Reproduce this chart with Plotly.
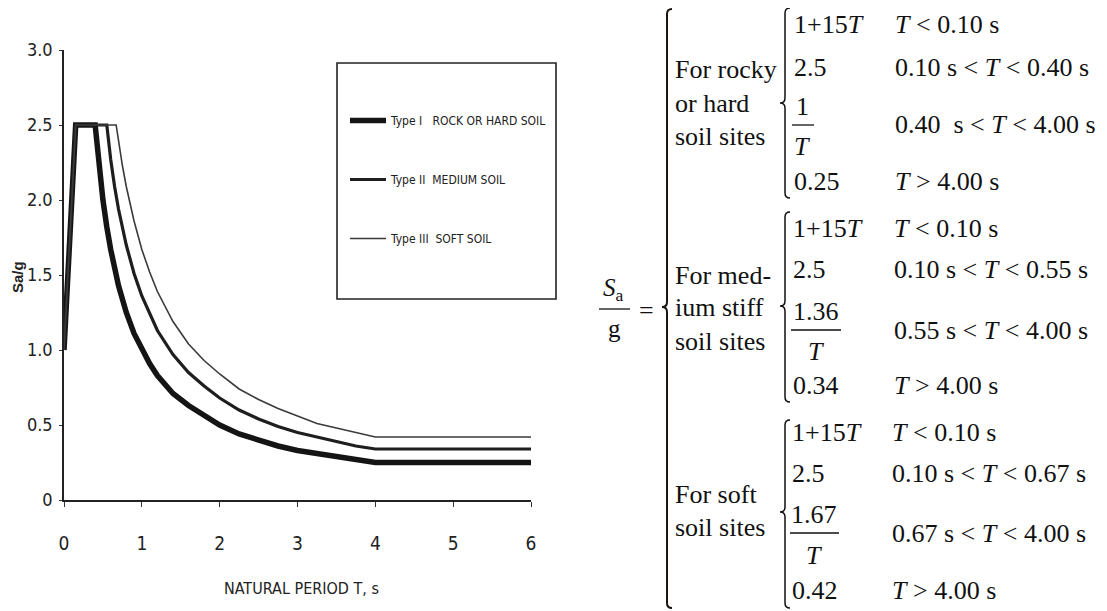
import plotly.graph_objects as go

# ---------------- data ----------------
T_rock = [0, 0.15, 0.40, 0.45, 0.50, 0.55, 0.60, 0.70, 0.80, 0.90, 1.00, 1.10, 1.20, 1.40, 1.60, 1.80, 2.00, 2.25, 2.50, 2.75, 3.00, 3.25, 3.50, 3.75, 4.00, 5.00, 6.00]
Sa_rock = [1.00, 2.50, 2.50, 2.22, 2.00, 1.82, 1.67, 1.43, 1.25, 1.11, 1.00, 0.91, 0.83, 0.71, 0.63, 0.56, 0.50, 0.44, 0.40, 0.36, 0.33, 0.31, 0.29, 0.27, 0.25, 0.25, 0.25]

T_med = [0, 0.15, 0.55, 0.60, 0.65, 0.70, 0.80, 0.90, 1.00, 1.10, 1.20, 1.40, 1.60, 1.80, 2.00, 2.25, 2.50, 2.75, 3.00, 3.25, 3.50, 3.75, 4.00, 5.00, 6.00]
Sa_med = [1.00, 2.50, 2.50, 2.27, 2.09, 1.94, 1.70, 1.51, 1.36, 1.24, 1.13, 0.97, 0.85, 0.76, 0.68, 0.60, 0.54, 0.49, 0.45, 0.42, 0.39, 0.36, 0.34, 0.34, 0.34]

T_soft = [0, 0.15, 0.67, 0.70, 0.75, 0.80, 0.90, 1.00, 1.10, 1.20, 1.40, 1.60, 1.80, 2.00, 2.25, 2.50, 2.75, 3.00, 3.25, 3.50, 3.75, 4.00, 5.00, 6.00]
Sa_soft = [1.00, 2.50, 2.50, 2.39, 2.23, 2.09, 1.86, 1.67, 1.52, 1.39, 1.19, 1.04, 0.93, 0.84, 0.74, 0.67, 0.61, 0.56, 0.51, 0.48, 0.45, 0.42, 0.42, 0.42]

series_names = ["Type I   ROCK OR HARD SOIL", "Type II  MEDIUM SOIL", "Type III  SOFT SOIL"]

x_ticks = [0, 1, 2, 3, 4, 5, 6]
y_ticks = [0, 0.5, 1.0, 1.5, 2.0, 2.5, 3.0]
y_tick_labels = ["0", "0.5", "1.0", "1.5", "2.0", "2.5", "3.0"]

# equation texts
group_labels = [["For rocky", "or hard", "soil sites"],
                ["For med-", "ium stiff", "soil sites"],
                ["For soft", "soil sites"]]
expr_first = ["1+15<i>T</i>", "1+15<i>T</i>", "1+15<i>T</i>"]
expr_plateau = ["2.5", "2.5", "2.5"]
expr_num = ["1", "1.36", "1.67"]
expr_const = ["0.25", "0.34", "0.42"]
cond_texts = [["<i>T</i> < 0.10 s", "0.10 s < <i>T</i> < 0.40 s", "0.40  s < <i>T</i> < 4.00 s", "<i>T</i> > 4.00 s"],
              ["<i>T</i> < 0.10 s", "0.10 s < <i>T</i> < 0.55 s", "0.55 s < <i>T</i> < 4.00 s", "<i>T</i> > 4.00 s"],
              ["<i>T</i> < 0.10 s", "0.10 s < <i>T</i> < 0.67 s", "0.67 s < <i>T</i> < 4.00 s", "<i>T</i> > 4.00 s"]]

# ---------------- layout helpers ----------------
OFF = 8                      # page body margin offset
W, H = 1107 - OFF, 611 - OFF
PW, PH = 467, 450
ML, MT = 64 - OFF, 50 - OFF
MR = W - ML - PW
MB = H - MT - PH


def px(xp):
    return (xp - OFF - ML) / PW


def py(yp):
    return (H - MB - (yp - OFF)) / PH


SANS = "Liberation Sans Narrow, DejaVu Sans Condensed, Liberation Sans, Arial Narrow, sans-serif"
SERIF = "Liberation Serif, Times New Roman, DejaVu Serif, serif"

fig = go.Figure()
styles = [dict(width=5.5, color="#141414"), dict(width=3.2, color="#1e1e1e"), dict(width=1.6, color="#3a3a3a")]
for i, (tx, sy) in enumerate([(T_rock, Sa_rock), (T_med, Sa_med), (T_soft, Sa_soft)]):
    fig.add_trace(go.Scatter(x=tx, y=sy, mode="lines", name=series_names[i],
                             line=dict(width=styles[i]["width"], color=styles[i]["color"], shape="linear"),
                             legendgroup=f"g{i}", cliponaxis=False))

shapes = []
annotations = []

# legend box
shapes.append(dict(type="rect", xref="paper", yref="paper", x0=px(337), x1=px(556), y0=py(299), y1=py(63),
                   line=dict(color="#222", width=1.6)))

# axis titles
annotations.append(dict(x=px(301), y=py(588), xref="paper", yref="paper", text="NATURAL PERIOD T, s",
                        showarrow=False, font=dict(family=SANS, size=16, color="#222"), xanchor="center", yanchor="middle"))
annotations.append(dict(x=px(17), y=py(277), xref="paper", yref="paper", text="<b>Sa/g</b>", textangle=-90,
                        showarrow=False, font=dict(family="Liberation Sans, Arial, sans-serif", size=15, color="#222"),
                        xanchor="center", yanchor="middle"))


def txt(x, y, t, anchor="left", size=26):
    annotations.append(dict(x=px(x), y=py(y), xref="paper", yref="paper", text=t, showarrow=False,
                            font=dict(family=SERIF, size=size, color="#111"), xanchor=anchor, yanchor="middle"))


def hline(x0, x1, y, w=1.3):
    shapes.append(dict(type="line", xref="paper", yref="paper", x0=px(x0), x1=px(x1), y0=py(y), y1=py(y),
                       line=dict(color="#111", width=w)))


def brace(x, top, mid, bottom, color="#111", w=1.6, d=5):
    pts = [
        f"M {px(x + d)} {py(top)}",
        f"Q {px(x)} {py(top)} {px(x)} {py(top + d)}",
        f"L {px(x)} {py(mid - d)}",
        f"Q {px(x)} {py(mid)} {px(x - d)} {py(mid)}",
        f"Q {px(x)} {py(mid)} {px(x)} {py(mid + d)}",
        f"L {px(x)} {py(bottom - d)}",
        f"Q {px(x)} {py(bottom)} {px(x + d)} {py(bottom)}",
    ]
    shapes.append(dict(type="path", xref="paper", yref="paper", path=" ".join(pts),
                       line=dict(color=color, width=w)))


# S_a / g =
txt(613, 289, "<i>S</i><sub>a</sub>", anchor="center", size=25)
hline(599, 630, 309)
txt(614, 328, "g", anchor="center", size=25)
txt(646, 310, "=", anchor="center", size=26)

# big brace
brace(667, 9, 307, 608, color="#1c1410", w=2.0, d=5)

# groups
group_geom = [
    dict(top=8, mid=103, bot=198, rows=[24, 67, 125, 181], num=106, den=147, label_y=[70, 103, 136], numx=802, barx=(792, 814), ex=792, cx=893),
    dict(top=212, mid=306, bot=402, rows=[228, 269, 330, 386], num=311, den=351, label_y=[275, 307, 341], numx=816, barx=(791, 841), ex=791, cx=892),
    dict(top=420, mid=512, bot=608, rows=[432, 473, 533, 590], num=514, den=555, label_y=[494, 527], numx=814, barx=(790, 839), ex=790, cx=890),
]
for gi, g in enumerate(group_geom):
    brace(785, g["top"], g["mid"], g["bot"], w=1.5, d=5)
    for li, lab in enumerate(group_labels[gi]):
        txt(673, g["label_y"][li], lab)
    txt(g["ex"], g["rows"][0], expr_first[gi])
    txt(g["ex"], g["rows"][1], expr_plateau[gi])
    txt(g["numx"], g["num"], expr_num[gi], anchor="center")
    hline(g["barx"][0], g["barx"][1], g["rows"][2])
    txt(g["numx"], g["den"], "<i>T</i>", anchor="center")
    txt(g["ex"], g["rows"][3], expr_const[gi])
    for ri, c in enumerate(cond_texts[gi]):
        txt(g["cx"], g["rows"][ri], c)

fig.update_layout(
    width=W, height=H,
    margin=dict(l=ML, r=MR, t=MT, b=MB),
    paper_bgcolor="white", plot_bgcolor="white",
    showlegend=True,
    legend=dict(x=px(345), y=py(106), xanchor="left", yanchor="top", traceorder="grouped", tracegroupgap=40,
                itemwidth=36,
                bgcolor="rgba(0,0,0,0)", borderwidth=0,
                font=dict(family=SANS, size=12, color="#222")),
    shapes=shapes, annotations=annotations,
    xaxis=dict(range=[0, 6], tickvals=x_ticks, ticktext=[str(v) for v in x_ticks], showgrid=False, zeroline=False,
               showline=True, linecolor="#222", linewidth=2, ticks="outside", ticklen=5, tickcolor="#333",
               tickfont=dict(family=SANS, size=19, color="#222"), ticklabelstandoff=20, fixedrange=True),
    yaxis=dict(range=[0, 3], tickvals=y_ticks, ticktext=y_tick_labels, showgrid=False, zeroline=False,
               showline=True, linecolor="#222", linewidth=1.5, ticks="outside", ticklen=3, tickcolor="#333",
               tickfont=dict(family=SANS, size=18, color="#222"), ticklabelstandoff=3, fixedrange=True),
)

fig.write_html("out.html")
